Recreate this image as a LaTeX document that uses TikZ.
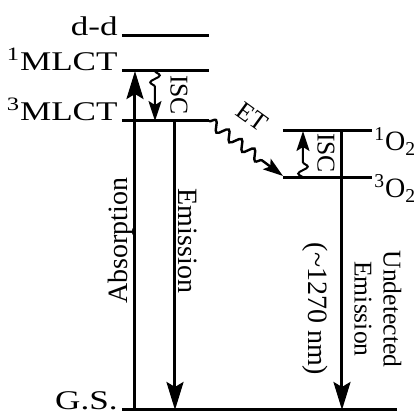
\documentclass[tikz,border=0pt]{standalone}
\usepackage{fontspec}
\setmainfont{Liberation Serif}
\newfontfamily\widefont[FakeStretch=1.3]{Liberation Serif}
\usetikzlibrary{arrows.meta, decorations.pathmorphing, positioning, calc}

\begin{document}
\begin{tikzpicture}[
    x=0.5pt, y=-0.5pt,
    level/.style={line width=1.5pt},
    arrow/.style={-{Stealth[length=14pt, width=8.5pt, inset=2.5pt]}, line width=1.5pt},
    wavy/.style={-{Stealth[length=10pt, width=6.5pt, inset=2pt]}, line width=1pt, decorate,
        decoration={snake, amplitude=2.4pt, segment length=7pt, post length=#1}},
    label/.style={font=\fontsize{14}{16}\selectfont, inner sep=0pt},
    state/.style={font=\widefont\fontsize{13.5}{16}\selectfont, inner sep=0pt, anchor=base east, xshift=-2pt},
    small/.style={font=\fontsize{12.8}{14.5}\selectfont, inner sep=0pt}
]
\useasboundingbox (0,0) rectangle (420,416);

% Levels
\coordinate (dd) at (122,36);
\coordinate (s1) at (122,71);
\coordinate (t1) at (122,121);
\coordinate (gs) at (122,410);
\coordinate (o1) at (283,131);
\coordinate (o3) at (283,178);
\coordinate (t1end) at (209,121);

\draw[level] (dd) -- ++(87,0);
\draw[level] (s1) -- ++(87,0);
\draw[level] (t1) -- (t1end);
\draw[level] (gs) -- ++(275,0);
\draw[level] (o1) -- ++(89,0);
\draw[level] (o3) -- ++(89,0);

% Level labels
\node[state] (ddlab) at (dd) {d-d};
\node[state] (s1lab) at (s1) {\textsuperscript{1}MLCT};
\node[state] (t1lab) at (t1) {\textsuperscript{3}MLCT};
\node[state] (gslab) at (gs) {G.S.};
\node[label, anchor=base west] (o1lab) at ($(o1)+(91,20)$) {\textsuperscript{1}O\textsubscript{2}};
\node[label, anchor=base west] (o3lab) at ($(o3)+(91,20)$) {\textsuperscript{3}O\textsubscript{2}};

% Arrows
\coordinate (absx) at (135,0);
\coordinate (emx) at (175,0);
\coordinate (iscx) at (155,0);
\coordinate (iscox) at (303,0);
\coordinate (undx) at (342,0);
\coordinate (et) at (283,176);

\draw[arrow] (absx |- gs) -- (absx |- s1);
\draw[arrow] (emx |- t1) -- (emx |- gs);
\draw[arrow] (undx |- o1) -- (undx |- gs);
\draw[wavy=15pt] (iscx |- s1) -- (iscx |- t1);
\draw[wavy=14pt] (iscox |- o3) -- (iscox |- o1);
\draw[wavy=12pt, line width=1.2pt, decoration={amplitude=2.5pt, segment length=8pt}] (t1end) -- (et);

% Labels
\node[label, rotate=90] (abslab) at (121,241) {Absorption};
\node[label, rotate=-90] (emlab) at (188,241) {Emission};
\node[label, rotate=-90] (nmlab) at (315,309) {(\textasciitilde1270 nm)};
\node[small, rotate=-90, align=center] (undlab) at (378,309) {Undetected\\Emission};
\node[small, rotate=-90] (isclab) at (179,95) {ISC};
\node[small, rotate=-90] (iscolab) at (326,153) {ISC};
\node[small, rotate=-36] (etlab) at (252,117) {ET};

\end{tikzpicture}
\end{document}
